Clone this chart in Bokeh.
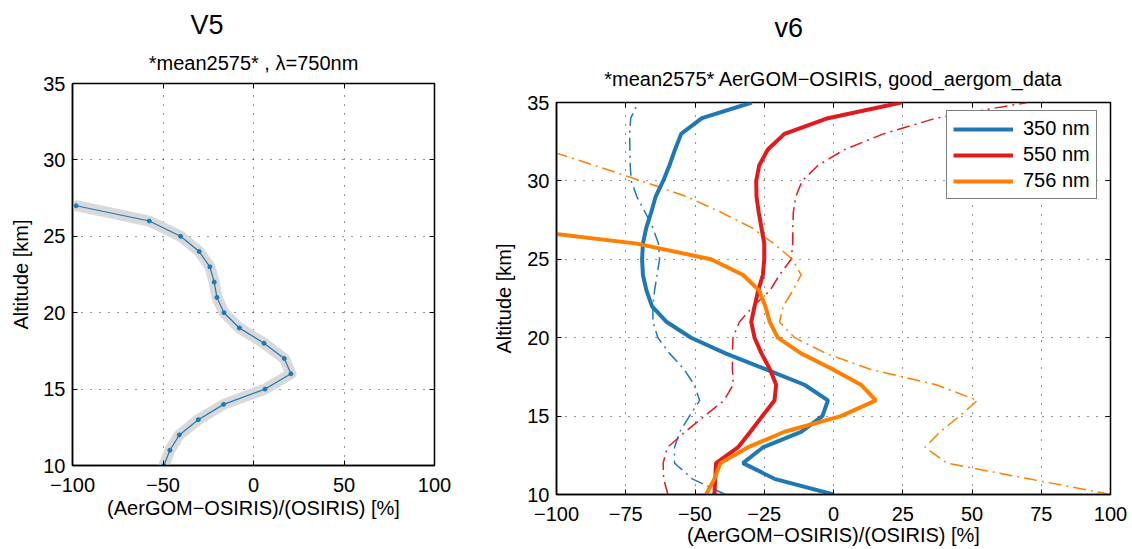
import numpy as np
from bokeh.plotting import figure
from bokeh.layouts import row
from bokeh.models import Range1d, LinearAxis, FixedTicker, Title
from bokeh.embed import file_html
from bokeh.resources import INLINE

nan = np.nan
FONT = "Liberation Sans"

# ---------------- data ----------------
# V5 panel (lambda = 750 nm)
alt_v5 = [10, 11, 12, 13, 14, 15, 16, 17, 18, 19, 20, 21, 22, 23, 24, 25, 26, 27]
v5_750 = [-49.5, -46.2, -41, -30.5, -16.5, 6.4, 20.7, 17, 5.8, -7.8,
          -16.3, -20.2, -21.7, -24.1, -30, -40.3, -57.6, -98]

# v6 panel
alt_v6 = [10, 11, 12, 13, 14, 15, 16, 17, 18, 19, 20, 21, 22,
          23, 24, 25, 26, 27, 28, 29, 30, 31, 32, 33, 34, 35]
v6_350 = [0, -21.3, -32.7, -25.5, -11.7, -4, -2, -10.5, -24.6, -39, -51.4, -60.2, -65.5,
          -67.5, -68.8, -69.1, -68.8, -67.6, -65.8, -64.2, -61.5, -59.2, -57.2, -55, -47.5, -29.5]
v6_550 = [-43, -42.7, -42.4, -34.5, -30, -25.7, -21.3, -20.7, -23, -26, -28.5, -29.7, -28.5,
          -27.2, -25.5, -25, -25, -26, -27, -27.8, -27.9, -26.8, -23.7, -17.7, -2, 24.5]
v6_756 = [-46, -43, -40.8, -31, -17.7, 2.7, 15.3, 9.9, -0.5, -11.7, -20.1, -23, -24.6,
          -26.8, -32.6, -44.2, -71, -119, nan, nan, nan, nan, nan, nan, nan, nan]
# dash-dot companions
v6_350_b = [-39, -51, -57.4, -57.4, -55.5, -52, -48.3, -50.3, -54, -59.2, -63.4, -65.2, -65.2,
            -64.6, -63.7, -62.8, -63.2, -65.2, -68, -71, -73, -73.4, -73.5, -73.6, -73.2, -70.5]
v6_550_b = [-59.8, -61.3, -61.5, -60, -53.5, -46.6, -39.5, -36.2, -36.5, -36.5, -36.3, -34, -29,
            -23, -19.5, -15.3, -14.7, -14.7, -14.5, -13.6, -11.3, -5.5, 4, 18, 37, 70]
v6_756_b = [100, 70.5, 41, 33, 38.5, 45.5, 52, 37, 13, -2.7, -14, -19.5, -18.2,
            -14.7, -11.7, -14.8, -21.5, -29.4, -40.6, -53, -69.4, -86.4, -104, nan, nan, nan]

labels_v6 = ["350 nm", "550 nm", "756 nm"]
colors = ["#1f78b4", "#e31a1c", "#ff7f00"]

xticks_v5 = [-100, -50, 0, 50, 100]
xticks_v6 = [-100, -75, -50, -25, 0, 25, 50, 75, 100]
yticks = [10, 15, 20, 25, 30, 35]

XLABEL = "(AerGOM\u2212OSIRIS)/(OSIRIS) [%]"
YLABEL = "Altitude [km]"


def minus_overrides(ticks):
    return {t: ("\u2212" + str(abs(t)) if t < 0 else str(t)) for t in ticks}


def style(p, xticks, xstand, xlabstand, ylabstand):
    p.frame_align = False
    p.outline_line_color = "black"
    p.outline_line_width = 1.5
    p.background_fill_color = "white"
    p.border_fill_color = "white"
    p.xaxis.ticker = FixedTicker(ticks=xticks)
    p.yaxis.ticker = FixedTicker(ticks=yticks)
    p.xaxis.major_label_overrides = minus_overrides(xticks)
    for ax in (p.xaxis[0], p.yaxis[0]):
        ax.major_label_text_font = FONT
        ax.major_label_text_font_size = "20px"
        ax.major_label_text_color = "black"
        ax.axis_label_text_font = FONT
        ax.axis_label_text_font_size = "20px"
        ax.axis_label_text_font_style = "normal"
        ax.axis_label_text_color = "black"
        ax.major_tick_in = 5
        ax.major_tick_out = 0
        ax.major_tick_line_color = "black"
        ax.minor_tick_line_color = None
        ax.axis_line_color = "black"
        ax.axis_line_width = 1.5
    p.xaxis.major_label_standoff = xstand
    p.xaxis.axis_label_standoff = xlabstand
    p.yaxis.major_label_standoff = 7
    p.yaxis.axis_label_standoff = ylabstand
    for g in (p.xgrid[0], p.ygrid[0]):
        g.grid_line_color = "black"
        g.grid_line_alpha = 0.85
        g.grid_line_dash = "1 8"
        g.grid_line_width = 1
    p.xgrid.ticker = FixedTicker(ticks=xticks)
    p.ygrid.ticker = FixedTicker(ticks=yticks)
    # mirrored inward tick marks on the top and right edges (no labels drawn)
    for loc, tk in (("above", xticks), ("right", yticks)):
        ax = LinearAxis(ticker=FixedTicker(ticks=tk), major_label_text_font_size="1px",
                        major_label_text_color=None,
                        major_tick_in=5, major_tick_out=0, minor_tick_line_color=None,
                        axis_line_color=None, major_label_standoff=0)
        p.add_layout(ax, loc)


def add_titles(p, main, sub, main_offset, sub_standoff, main_standoff):
    # first added sits nearest the frame
    p.add_layout(Title(text=sub, align="center", standoff=sub_standoff,
                       text_font=FONT, text_font_size="20px", text_font_style="normal",
                       text_color="black"), "above")
    p.add_layout(Title(text=main, align="left", offset=main_offset, standoff=main_standoff,
                       text_font=FONT, text_font_size="27px", text_font_style="normal",
                       text_color="black"), "above")


# ---------------- V5 panel ----------------
p1 = figure(width=490, height=548, x_range=Range1d(-100, 100), y_range=Range1d(10, 35),
            output_backend="svg", toolbar_location=None, title=None,
            min_border_left=72, min_border_right=56, min_border_top=83, min_border_bottom=83,
            x_axis_label=XLABEL, y_axis_label=YLABEL)
style(p1, xticks_v5, 12, 2, 8)
p1.line(v5_750, alt_v5, line_width=11, line_color="#d9d9d9", line_join="round", line_cap="round")
p1.line(v5_750, alt_v5, line_width=1.2, line_color=colors[0])
p1.scatter(v5_750, alt_v5, size=4, color=colors[0])
add_titles(p1, "V5", "*mean2575* , \u03bb=750nm", 118, 19, 2)

# ---------------- v6 panel ----------------
p2 = figure(width=640, height=548, x_range=Range1d(-100, 100), y_range=Range1d(10, 35),
            output_backend="svg", toolbar_location=None, title=None,
            min_border_left=65, min_border_right=20, min_border_top=102, min_border_bottom=53,
            x_axis_label=XLABEL, y_axis_label=YLABEL)
style(p2, xticks_v6, 12, 0, 9)

dash_series = [v6_350_b, v6_550_b, v6_756_b]
solid_series = [v6_350, v6_550, v6_756]
for vals, c in zip(dash_series, colors):
    p2.line(vals, alt_v6, line_width=1.5, line_color=c, line_dash="13 5 2 5")
for vals, c, lab in zip(solid_series, colors, labels_v6):
    p2.line(vals, alt_v6, line_width=4, line_color=c, legend_label=lab)

lg = p2.legend[0]
lg.location = (390, 295)
lg.label_text_font = FONT
lg.label_text_font_size = "20px"
lg.label_text_color = "black"
lg.glyph_width = 60
lg.glyph_height = 20
lg.label_standoff = 10
lg.padding = 6
lg.spacing = 3
lg.margin = 0
lg.border_line_color = "black"
lg.border_line_width = 1.5
lg.background_fill_color = "white"
lg.background_fill_alpha = 1

add_titles(p2, "v6", "*mean2575* AerGOM\u2212OSIRIS, good_aergom_data", 218, 26, 20)

layout = row(p1, p2)
open("out.html", "w").write(file_html(layout, INLINE))
